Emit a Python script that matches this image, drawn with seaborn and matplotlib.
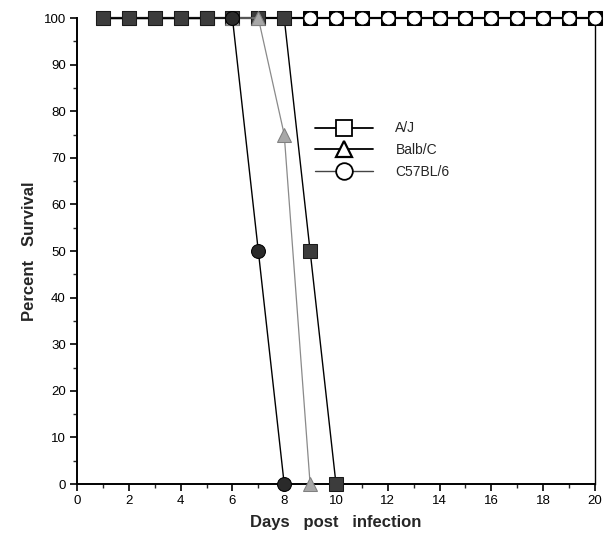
import numpy as np
import pandas as pd
import matplotlib
matplotlib.use("Agg")
import matplotlib.pyplot as plt
from matplotlib.lines import Line2D
import seaborn as sns

sns.set_style("ticks")
plt.rcParams['font.family'] = ['Liberation Sans', 'DejaVu Sans']

# Data (days post infection, percent survival)
days_aj = [1, 2, 3, 4, 5, 6, 7, 8, 9, 10]
surv_aj = [100, 100, 100, 100, 100, 100, 100, 100, 50, 0]
days_balb = [1, 2, 3, 4, 5, 6, 7, 8, 9]
surv_balb = [100, 100, 100, 100, 100, 100, 100, 75, 0]
days_dark = [1, 2, 3, 4, 5, 6, 7, 8]
surv_dark = [100, 100, 100, 100, 100, 100, 50, 0]
days_c57 = list(range(1, 21))
surv_c57 = [100] * 20

legend_labels = ["A/J", "Balb/C", "C57BL/6"]
x_ticks = list(range(0, 21, 2))
y_ticks = list(range(0, 101, 10))

fig = plt.figure(figsize=(6.07, 5.36), dpi=100)
ax = fig.add_axes([0.1269, 0.097, 0.9802 - 0.1269, 0.9664 - 0.097])

ms = 10
# C57BL/6: open circles (drawn first, behind)
sns.lineplot(x=days_c57, y=surv_c57, ax=ax, color="black", lw=1.6,
             marker="s", markersize=ms, markerfacecolor="black",
             markeredgecolor="black", clip_on=False, zorder=2)
sns.lineplot(x=days_c57, y=surv_c57, ax=ax, color="black", lw=0,
             marker="o", markersize=ms - 0.5, markerfacecolor="white",
             markeredgecolor="black", markeredgewidth=0.8, clip_on=False, zorder=3)
# A/J: dark squares (later part drawn low)
sns.lineplot(x=days_aj[4:], y=surv_aj[4:], ax=ax, color="black", lw=1.0,
             marker="s", markersize=ms, markerfacecolor="#3c3c3c",
             markeredgecolor="#1a1a1a", clip_on=False, zorder=3.5)
# Balb/C: gray triangles
sns.lineplot(x=days_balb, y=surv_balb, ax=ax, color="#8a8a8a", lw=0.9,
             marker="^", markersize=ms, markerfacecolor="#a8a8a8",
             markeredgecolor="#808080", clip_on=False, zorder=4)
# dark circle series
sns.lineplot(x=days_dark, y=surv_dark, ax=ax, color="black", lw=1.0,
             marker="o", markersize=ms, markerfacecolor="#2a2a2a",
             markeredgecolor="black", clip_on=False, zorder=4.5)
# A/J early part on top
sns.lineplot(x=days_aj[:5], y=surv_aj[:5], ax=ax, color="black", lw=1.0,
             marker="s", markersize=ms, markerfacecolor="#3c3c3c",
             markeredgecolor="#1a1a1a", clip_on=False, zorder=5)

ax.set_xlim(0, 20)
ax.set_ylim(0, 100)
ax.set_xticks(x_ticks)
ax.set_yticks(y_ticks)
ax.set_xticks(range(0, 21), minor=True)
ax.set_yticks(range(0, 101, 5), minor=True)
ax.tick_params(which="major", direction="out", length=5, width=1.2,
               labelsize=9.5, pad=3, colors="black")
ax.tick_params(which="minor", direction="out", length=3, width=1.0)
for s in ["left", "bottom", "right"]:
    ax.spines[s].set_visible(True)
    ax.spines[s].set_linewidth(1.4)
    ax.spines[s].set_color("black")
ax.spines["right"].set_linewidth(1.0)
ax.spines["top"].set_visible(False)

ax.set_xlabel("Days   post   infection", fontsize=12, fontweight="bold", labelpad=6)
ax.set_ylabel("Percent   Survival", fontsize=12, fontweight="bold", labelpad=5)

handles = [
    Line2D([], [], color="black", lw=1.3, marker="s", markersize=11,
           markerfacecolor="white", markeredgecolor="black", markeredgewidth=1.3),
    Line2D([], [], color="black", lw=1.3, marker="^", markersize=11,
           markerfacecolor="white", markeredgecolor="black", markeredgewidth=1.6),
    Line2D([], [], color="#444444", lw=1.0, marker="o", markersize=12,
           markerfacecolor="white", markeredgecolor="black", markeredgewidth=1.3),
]
ax.legend(handles, legend_labels, loc="upper left", bbox_to_anchor=(0.435, 0.805),
          frameon=False, fontsize=10, handlelength=4.2, labelspacing=0.55,
          handletextpad=1.6)

fig.savefig("out.png", dpi=100)
